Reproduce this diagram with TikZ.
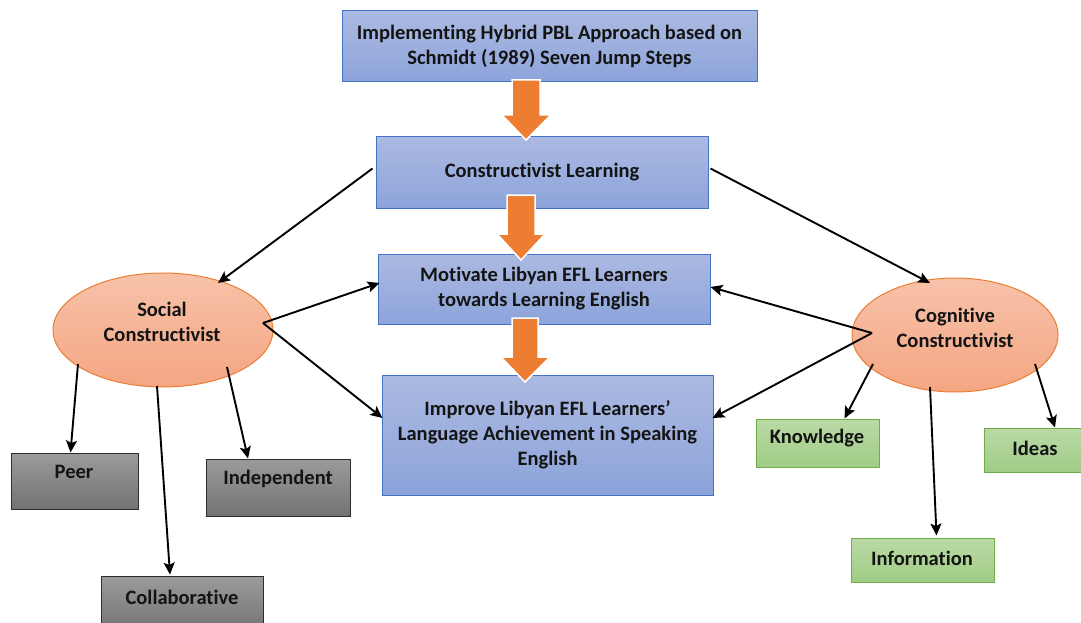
\documentclass[tikz,border=0pt]{standalone}
\usepackage{fontspec}
\setmainfont[Ligatures=NoCommon]{Carlito}
\usetikzlibrary{arrows.meta,shapes.geometric}
\definecolor{bluetop}{RGB}{172,186,226}
\definecolor{bluebot}{RGB}{140,163,218}
\definecolor{blueline}{RGB}{68,114,196}
\definecolor{ovaltop}{RGB}{247,194,170}
\definecolor{ovalbot}{RGB}{244,166,130}
\definecolor{ovalline}{RGB}{237,125,49}
\definecolor{arroworange}{RGB}{237,125,49}
\definecolor{graytop}{RGB}{155,155,155}
\definecolor{graybot}{RGB}{115,115,115}
\definecolor{grayline}{RGB}{45,45,45}
\definecolor{greentop}{RGB}{186,218,166}
\definecolor{greenbot}{RGB}{160,204,134}
\definecolor{greenline}{RGB}{112,173,71}
\begin{document}
\begin{tikzpicture}[x=1pt,y=-1pt,
  txt/.style={font=\fontsize{20.5}{25}\selectfont\bfseries, text=black!92, align=center},
  bluebox/.style={rectangle, draw=blueline, line width=1pt, top color=bluetop, bottom color=bluebot, txt, inner sep=0pt},
  oval/.style={ellipse, draw=ovalline, line width=1pt, top color=ovaltop, bottom color=ovalbot, inner sep=0pt},
  graybox/.style={rectangle, draw=grayline, line width=1pt, top color=graytop, bottom color=graybot, inner sep=0pt},
  greenbox/.style={rectangle, draw=greenline, line width=1pt, top color=greentop, bottom color=greenbot, inner sep=0pt},
  lbl/.style={txt, inner sep=0pt},
  conn/.style={draw=black, line width=1.9pt, -{Stealth[length=12pt,width=11pt,inset=2.5pt]}},
  blockarrow/.style={fill=arroworange, draw=white, line width=1.5pt, line join=miter}
]
\useasboundingbox (0,0) rectangle (1081,623);

% blue boxes
\node[bluebox, minimum width=415pt, minimum height=71pt] (top) at (549.5,46.5)
  {Implementing Hybrid PBL Approach based on\\Schmidt (1989) Seven Jump Steps};
\node[bluebox, minimum width=332pt, minimum height=71pt] (con) at (542,172.5)
  {Constructivist Learning};
\node[bluebox, minimum width=332pt, minimum height=70pt] (mot) at (544,289)
  {Motivate Libyan EFL Learners\\towards Learning English};
\node[bluebox, minimum width=331pt, minimum height=120pt] (imp) at (547.5,435)
  {Improve Libyan EFL Learners’\\Language Achievement in Speaking\\English};

% ellipses
\node[oval, minimum width=220pt, minimum height=114pt] (soc) at (163,330) {};
\node[lbl] (soclbl) at (162,322) {Social\\Constructivist};
\node[oval, minimum width=206pt, minimum height=114pt] (cog) at (955,335) {};
\node[lbl] (coglbl) at (955,328) {Cognitive\\Constructivist};

% gray boxes
\node[graybox, minimum width=127pt, minimum height=56pt] (peer) at (74.5,481) {};
\node[lbl] (peerlbl) at (74,472) {Peer};
\node[graybox, minimum width=144pt, minimum height=57pt] (ind) at (278,487.5) {};
\node[lbl] (indlbl) at (278,479) {Independent};
\node[graybox, minimum width=162pt, minimum height=56pt] (col) at (182,604) {};
\node[lbl] (collbl) at (182,597) {Collaborative};

% green boxes
\node[greenbox, minimum width=123pt, minimum height=48pt] (know) at (817.5,443) {};
\node[lbl] (knowlbl) at (817,438) {Knowledge};
\node[greenbox, minimum width=104pt, minimum height=44pt] (ideas) at (1036,450) {};
\node[lbl] (ideaslbl) at (1035,448) {Ideas};
\node[greenbox, minimum width=143pt, minimum height=44pt] (info) at (922.5,560) {};
\node[lbl] (infolbl) at (922,558) {Information};

% orange block arrows
\draw[blockarrow] (512,80) -- (540,80) -- (540,115) -- (551,115) -- (526,140) -- (502,115) -- (512,115) -- cycle;
\draw[blockarrow] (507,195) -- (535,195) -- (535,234) -- (545,234) -- (521,260) -- (497,234) -- (507,234) -- cycle;
\draw[blockarrow] (512,318) -- (538,318) -- (538,357) -- (550,357) -- (525,382) -- (501,357) -- (512,357) -- cycle;

% black connectors
\draw[conn] ([shift={(-3,-4)}]con.west) -- ([shift={(55,-47)}]soc.center);
\draw[conn] ([shift={(2,-4)}]con.east) -- ([shift={(-25,-52)}]cog.center);
\draw[conn] ([shift={(100,-7)}]soc.center) -- ([shift={(2,-6)}]mot.west);
\draw[conn] ([shift={(100,-7)}]soc.center) -- ([shift={(1,-17)}]imp.west);
\draw[conn] ([shift={(-83,-2)}]cog.center) -- ([shift={(0,-2)}]mot.east);
\draw[conn] ([shift={(-83,-2)}]cog.center) -- ([shift={(-1,-17)}]imp.east);
\draw[conn] ([shift={(-85,34)}]soc.center) -- ([shift={(-4,0)}]peer.north);
\draw[conn] ([shift={(-6,56)}]soc.center) -- ([shift={(-12,-1)}]col.north);
\draw[conn] ([shift={(64,37)}]soc.center) -- ([shift={(-30,0)}]ind.north);
\draw[conn] ([shift={(-82,29)}]cog.center) -- ([shift={(27,0)}]know.north);
\draw[conn] ([shift={(-25,52)}]cog.center) -- ([shift={(14,-2)}]info.north);
\draw[conn] ([shift={(80,29)}]cog.center) -- ([shift={(19,0)}]ideas.north);
\end{tikzpicture}
\end{document}
